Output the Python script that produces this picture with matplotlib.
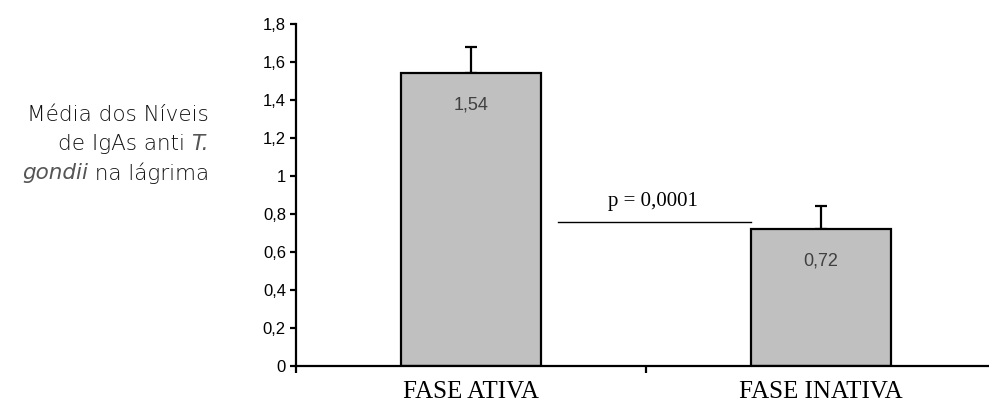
import matplotlib
matplotlib.use("Agg")
import matplotlib.pyplot as plt

categories = ["FASE ATIVA", "FASE INATIVA"]
means = [1.54, 0.72]
errors = [0.14, 0.12]
value_labels = ["1,54", "0,72"]
yticks = [0, 0.2, 0.4, 0.6, 0.8, 1.0, 1.2, 1.4, 1.6, 1.8]
ytick_labels = ["0", "0,2", "0,4", "0,6", "0,8", "1", "1,2", "1,4", "1,6", "1,8"]
p_text = "p = 0,0001"

W, H = 989, 408
fig = plt.figure(figsize=(W / 100, H / 100), dpi=100)
ax = fig.add_axes([295.7 / W, 42 / H, (995.75 - 295.7) / W, (366 - 24) / H])

x = list(range(len(categories)))
ax.bar(x, means, width=0.4, color="#C0C0C0", edgecolor="black", linewidth=1.6, zorder=2)
ax.errorbar(x, means, yerr=[[0] * len(errors), errors], fmt="none", ecolor="black",
            elinewidth=1.6, capsize=4, capthick=1.6, zorder=1)

ax.set_xlim(-0.5, 1.5)
ax.set_ylim(0, 1.8)
ax.spines["top"].set_visible(False)
ax.spines["right"].set_visible(False)
for s in ("left", "bottom"):
    ax.spines[s].set_linewidth(1.6)

ax.set_yticks(yticks)
ax.set_yticklabels(ytick_labels, family="Liberation Sans", fontsize=12)
ax.tick_params(axis="y", direction="out", length=4, width=1.6, pad=3)

ax.set_xticks(x)
ax.set_xticklabels(categories, family="Liberation Serif", fontsize=18)
ax.tick_params(axis="x", which="major", length=0, pad=11)
ax.set_xticks([-0.5, 0.5, 1.5], minor=True)
ax.tick_params(axis="x", which="minor", direction="out", length=5, width=1.6)

for xi, m, lab in zip(x, means, value_labels):
    ax.annotate(lab, (xi, m), xytext=(0, -23), textcoords="offset points",
                ha="center", va="center", fontsize=13, color="#404040",
                family="Liberation Sans")

ax.plot([0.25, 0.8], [0.76, 0.76], color="black", linewidth=1.0)
ax.text(0.52, 0.84, p_text, ha="center", va="baseline", family="Liberation Serif", fontsize=15)

# multi-style y label, right aligned
label_lines = [
    [("Média dos Níveis", "normal")],
    [("de IgAs anti ", "normal"), ("T.", "italic")],
    [("gondii", "italic"), (" na lágrima", "normal")],
]
right_px = 209
line_y_px = [115, 144, 173]
fig.canvas.draw()
renderer = fig.canvas.get_renderer()
for pieces, ypx in zip(label_lines, line_y_px):
    texts = []
    for s, style in pieces:
        if style == "italic":
            t = fig.text(0, 0, s, fontsize=15.5, family="DejaVu Sans", style="italic",
                         ha="left", va="center", color="#555555")
        else:
            t = fig.text(0, 0, s, fontsize=15.5, family="DejaVu Sans", fontweight="light",
                         ha="left", va="center", color="#111111")
        texts.append(t)
    widths = [t.get_window_extent(renderer).width for t in texts]
    xpos = right_px - sum(widths)
    for t, w in zip(texts, widths):
        t.set_position((xpos / W, 1 - ypx / H))
        xpos += w

fig.savefig("out.png", dpi=100)
